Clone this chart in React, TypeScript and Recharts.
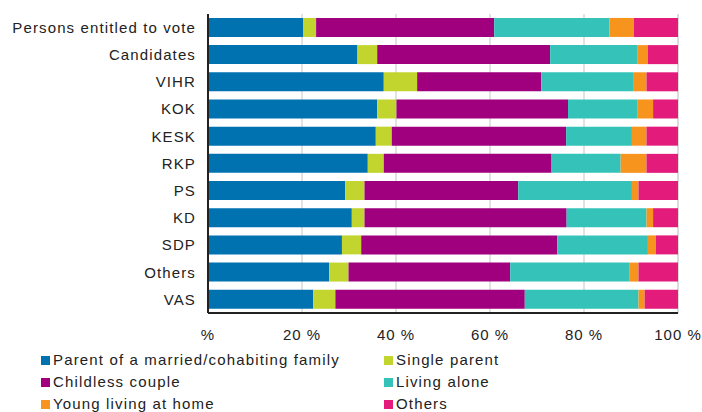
import React from "react";
import { BarChart, Bar, XAxis, YAxis, CartesianGrid } from "recharts";

const categories = ["Persons entitled to vote", "Candidates", "VIHR", "KOK", "KESK", "RKP", "PS", "KD", "SDP", "Others", "VAS"];
const parentFamily = [20.3, 31.8, 37.4, 36.0, 35.7, 34.0, 29.2, 30.6, 28.5, 25.8, 22.4];
const singleParent = [2.7, 4.2, 7.1, 4.1, 3.4, 3.4, 4.1, 2.7, 4.1, 4.1, 4.7];
const childlessCouple = [37.9, 36.8, 26.4, 36.5, 37.1, 35.7, 32.7, 43.0, 41.7, 34.4, 40.3];
const livingAlone = [24.5, 18.5, 19.7, 14.7, 14.0, 14.7, 24.2, 17.0, 19.3, 25.3, 24.2];
const youngAtHome = [5.2, 2.3, 2.7, 3.4, 3.1, 5.5, 1.4, 1.4, 1.7, 2.0, 1.3];
const others = [9.4, 6.4, 6.7, 5.3, 6.7, 6.7, 8.4, 5.3, 4.7, 8.4, 7.1];
const xTicks = [0, 20, 40, 60, 80, 100];

const series = [
  { key: "parent", name: "Parent of a married/cohabiting family", color: "#0072B0", values: parentFamily },
  { key: "single", name: "Single parent", color: "#C2D52F", values: singleParent },
  { key: "childless", name: "Childless couple", color: "#A0007E", values: childlessCouple },
  { key: "alone", name: "Living alone", color: "#35C3B9", values: livingAlone },
  { key: "young", name: "Young living at home", color: "#F7941E", values: youngAtHome },
  { key: "others", name: "Others", color: "#E31B7A", values: others },
];

const data = categories.map((c, i) => {
  const row: Record<string, string | number> = { category: c };
  series.forEach((s) => {
    row[s.key] = s.values[i];
  });
  return row;
});

const FONT = "'Liberation Sans', Arial, sans-serif";
const xTickStyle = { fontFamily: FONT, fontSize: 15, fill: "#222", letterSpacing: 1 };
const yTickStyle = { fontFamily: FONT, fontSize: 15, fill: "#222", letterSpacing: 1.12 };

export default function App() {
  return (
    <div style={{ position: "absolute", left: 0, top: 0, width: 702, height: 412, background: "#fff" }}>
      <BarChart
        width={702}
        height={412}
        data={data}
        layout="vertical"
        barCategoryGap="14.5%"
        margin={{ top: 14, right: 24, bottom: 69, left: 0 }}
      >
        <CartesianGrid horizontal={false} vertical={true} stroke="#D9D9D9" strokeWidth={1.5} />
        <XAxis
          type="number"
          domain={[0, 100]}
          ticks={xTicks}
          tickFormatter={(v: number) => (v === 0 ? "%" : `${v} %`)}
          tickLine={false}
          tickMargin={10}
          height={30}
          axisLine={{ stroke: "#222", strokeWidth: 2 }}
          tick={xTickStyle}
          interval={0}
        />
        <YAxis
          type="category"
          dataKey="category"
          width={208}
          tickLine={false}
          tickMargin={6}
          axisLine={{ stroke: "#222", strokeWidth: 2 }}
          tick={yTickStyle}
          interval={0}
        />
        {series.map((s) => (
          <Bar key={s.key} dataKey={s.key} name={s.name} stackId="a" fill={s.color} isAnimationActive={false} />
        ))}
      </BarChart>
      <div
        style={{
          position: "absolute",
          left: 41,
          top: 348,
          width: 640,
          display: "grid",
          gridTemplateColumns: "343px 250px",
          fontFamily: FONT,
          fontSize: 15,
          letterSpacing: 1.15,
          color: "#222",
        }}
      >
        {series.map((s) => (
          <div key={s.key} style={{ display: "flex", alignItems: "center", height: 22, whiteSpace: "nowrap" }}>
            <span
              style={{
                display: "inline-block",
                flexShrink: 0,
                width: 9,
                height: 9,
                background: s.color,
                marginRight: 3,
                marginTop: 3,
              }}
            />
            <span>{s.name}</span>
          </div>
        ))}
      </div>
    </div>
  );
}
